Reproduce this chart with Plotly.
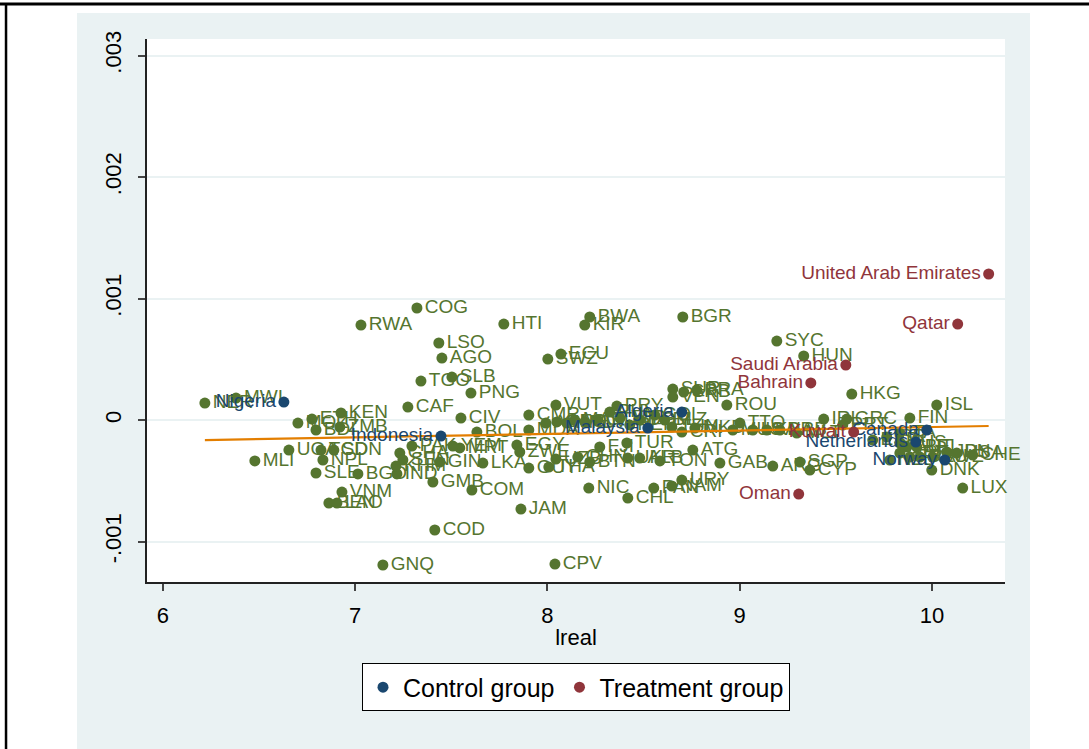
import plotly.graph_objects as go

# Countries outside both groups (ISO codes), lreal and residual
other_codes = [
    "NER", "MWI", "MLI", "UGA", "MOZ", "ETH", "BDI", "KEN", "ZMB", "TCD",
    "SDN", "NPL", "SLE", "BGD", "IND", "VNM", "BEN", "LAO", "GNQ", "RWA",
    "COG", "LSO", "AGO", "TGO", "SLB", "PNG", "CAF", "CIV", "BOL", "GHA",
    "SEN", "PAK", "KHM", "GIN", "MRT", "YEM", "LKA", "GMB", "COM", "COD",
    "JAM", "CPV", "HTI", "BWA", "KIR", "BGR", "ECU", "SWZ", "SYC", "HUN",
    "HKG", "ISL", "VUT", "CMR", "MDA", "ARM", "GEO", "HND", "MAR", "SLV",
    "GTM", "PHL", "PRY", "JOR", "PER", "DOM", "COL", "BLZ", "TUN", "CRI",
    "SUR", "SRB", "BRA", "VEN", "ROU", "EGY", "ZWE", "GUY", "THA", "UZB",
    "CHN", "BTN", "FJI", "TUR", "UKR", "ALB", "TON", "ATG", "GAB", "URY",
    "NAM", "PAN", "NIC", "CHL", "MKD", "MUS", "TTO", "LCA", "KNA", "BRB",
    "MLT", "ARG", "SGP", "CYP", "IRL", "GRC", "PRT", "ESP", "ISR", "ITA",
    "FIN", "AUS", "AUT", "BEL", "GBR", "FRA", "DEU", "SWE", "JPN", "USA",
    "CHE", "DNK", "LUX", "NZL",
]
other_lreal = [
    6.218, 6.380, 6.478, 6.655, 6.702, 6.775, 6.796, 6.926, 6.920, 6.822,
    6.889, 6.832, 6.796, 7.014, 7.217, 6.931, 6.863, 6.905, 7.144, 7.030,
    7.321, 7.435, 7.451, 7.342, 7.503, 7.602, 7.274, 7.550, 7.633, 7.232,
    7.248, 7.295, 7.212, 7.440, 7.544, 7.508, 7.664, 7.404, 7.607, 7.414,
    7.862, 8.039, 7.773, 8.220, 8.194, 8.704, 8.070, 8.002, 9.193, 9.333,
    9.583, 10.025, 8.044, 7.903, 7.903, 7.992, 8.049, 8.101, 8.142, 8.194,
    8.262, 8.324, 8.361, 8.377, 8.428, 8.480, 8.558, 8.610, 8.647, 8.699,
    8.652, 8.709, 8.777, 8.652, 8.933, 7.841, 7.856, 7.903, 8.007, 8.044,
    8.158, 8.220, 8.272, 8.413, 8.418, 8.480, 8.585, 8.756, 8.897, 8.699,
    8.647, 8.553, 8.215, 8.418, 8.767, 8.964, 9.001, 9.068, 9.141, 9.209,
    9.297, 9.172, 9.313, 9.365, 9.437, 9.557, 9.536, 9.692, 9.765, 9.833,
    9.885, 9.833, 9.869, 9.921, 9.833, 9.885, 9.937, 10.004, 10.077, 10.129,
    10.212, 9.999, 10.160, 9.781,
]
other_resid = [
    0.000140, 0.000181, -0.000337, -0.000247, -0.000025, 0.000008, -0.000082, 0.000058, -0.000058, -0.000247,
    -0.000247, -0.000329, -0.000436, -0.000444, -0.000444, -0.000593, -0.000683, -0.000683, -0.001193, 0.000782,
    0.000922, 0.000634, 0.000510, 0.000321, 0.000354, 0.000222, 0.000107, 0.000016, -0.000099, -0.000272,
    -0.000329, -0.000214, -0.000379, -0.000346, -0.000230, -0.000214, -0.000354, -0.000510, -0.000576, -0.000905,
    -0.000733, -0.001185, 0.000790, 0.000848, 0.000782, 0.000848, 0.000543, 0.000502, 0.000650, 0.000527,
    0.000214, 0.000123, 0.000123, 0.000041, -0.000082, -0.000025, -0.000016, -0.000025, 0.000000, -0.000016,
    0.000000, 0.000066, 0.000115, 0.000016, -0.000041, 0.000000, 0.000041, 0.000000, -0.000058, -0.000099,
    0.000255, 0.000230, 0.000247, 0.000189, 0.000123, -0.000206, -0.000263, -0.000395, -0.000387, -0.000321,
    -0.000305, -0.000346, -0.000222, -0.000189, -0.000313, -0.000313, -0.000337, -0.000247, -0.000354, -0.000494,
    -0.000543, -0.000560, -0.000560, -0.000642, -0.000066, -0.000082, -0.000025, -0.000082, -0.000082, -0.000082,
    -0.000107, -0.000379, -0.000346, -0.000412, 0.000008, 0.000008, -0.000041, -0.000165, -0.000140, -0.000107,
    0.000016, -0.000189, -0.000222, -0.000222, -0.000272, -0.000305, -0.000305, -0.000305, -0.000263, -0.000272,
    -0.000288, -0.000412, -0.000560, -0.000329,
]

# Control group
control_names = ["Nigeria", "Indonesia", "Algeria", "Malaysia", "Netherlands", "Canada", "Norway"]
control_lreal = [6.629, 7.446, 8.699, 8.522, 9.916, 9.973, 10.067]
control_resid = [0.000148, -0.000132, 0.000066, -0.000066, -0.000181, -0.000082, -0.000329]

# Treatment group
treat_names = ["United Arab Emirates", "Qatar", "Saudi Arabia", "Bahrain", "Oman", "Kuwait"]
treat_lreal = [10.295, 10.134, 9.552, 9.370, 9.307, 9.593]
treat_resid = [0.001202, 0.000790, 0.000453, 0.000305, -0.000609, -0.000099]

# Linear fit endpoints
fit_lreal = [6.218, 10.295]
fit_resid = [-0.000165, -0.000049]

y_tickvals = [-0.001, 0, 0.001, 0.002, 0.003]
y_ticktext = ["-.001", "0", ".001", ".002", ".003"]
x_tickvals = [6, 7, 8, 9, 10]

GREEN = "#55752F"
NAVY = "#1A476F"
MAROON = "#90353B"
ORANGE = "#E37E00"
REGION_BG = "#EAF2F3"
FONT = "Liberation Sans, Arial, sans-serif"

fig = go.Figure()

fig.add_trace(go.Scatter(
    x=other_lreal, y=other_resid, text=other_codes,
    mode="markers+text", textposition="middle right",
    marker=dict(color=GREEN, size=11),
    textfont=dict(color=GREEN, size=19, family=FONT),
    showlegend=False, cliponaxis=False,
))

fig.add_trace(go.Scatter(
    x=fit_lreal, y=fit_resid, mode="lines",
    line=dict(color=ORANGE, width=2.2),
    showlegend=False, cliponaxis=False,
))

fig.add_trace(go.Scatter(
    x=control_lreal, y=control_resid, text=control_names,
    mode="markers+text", textposition="middle left",
    marker=dict(color=NAVY, size=11),
    textfont=dict(color=NAVY, size=19, family=FONT),
    name="Control group", cliponaxis=False,
))

fig.add_trace(go.Scatter(
    x=treat_lreal, y=treat_resid, text=treat_names,
    mode="markers+text", textposition="middle left",
    marker=dict(color=MAROON, size=11),
    textfont=dict(color=MAROON, size=19, family=FONT),
    name="Treatment group", cliponaxis=False,
))

# Page frame, graph region and white plot region
shapes = [
    dict(type="rect", xref="paper", yref="paper", x0=-0.0816, x1=1.0291, y0=-0.32, y1=1.0479,
         fillcolor=REGION_BG, line=dict(width=0), layer="below"),
    dict(type="rect", xref="paper", yref="paper", x0=0, x1=1, y0=0, y1=1,
         fillcolor="white", line=dict(width=0), layer="below"),
    dict(type="line", xref="paper", yref="paper", x0=-0.2, x1=1.2, y0=1.0645, y1=1.0645,
         line=dict(color="black", width=3)),
    dict(type="line", xref="paper", yref="paper", x0=-0.1643, x1=-0.1643, y0=-0.32, y1=1.0645,
         line=dict(color="black", width=2.5)),
]

fig.update_layout(
    width=1089, height=749,
    margin=dict(l=147, r=84, t=39, b=167, autoexpand=False),
    paper_bgcolor="white", plot_bgcolor="white",
    font=dict(family=FONT, color="black"),
    shapes=shapes,
    legend=dict(
        orientation="h", x=0.5, xanchor="center", y=-0.150, yanchor="top",
        bgcolor="white", bordercolor="black", borderwidth=1,
        font=dict(size=25, family=FONT, color="black"),
        itemwidth=30, tracegroupgap=0,
    ),
    xaxis=dict(
        range=[5.917, 10.38], tickvals=x_tickvals,
        showgrid=False, zeroline=False,
        showline=True, linecolor="#222", linewidth=1.5,
        ticks="outside", ticklen=7, tickcolor="#444", tickwidth=1.5,
        tickfont=dict(size=22, color="black"), ticklabelstandoff=6,
        title=dict(text="lreal", font=dict(size=22, color="black"), standoff=2),
    ),
    yaxis=dict(
        range=[-0.001333, 0.003136], tickvals=y_tickvals, ticktext=y_ticktext,
        showgrid=True, gridcolor=REGION_BG, gridwidth=2, zeroline=False,
        showline=True, linecolor="#222", linewidth=1.5,
        ticks="outside", ticklen=7, tickcolor="#444", tickwidth=1.5,
        tickangle=-90, tickfont=dict(size=22, color="black"), ticklabelstandoff=8,
    ),
)

fig.write_html("out.html")
